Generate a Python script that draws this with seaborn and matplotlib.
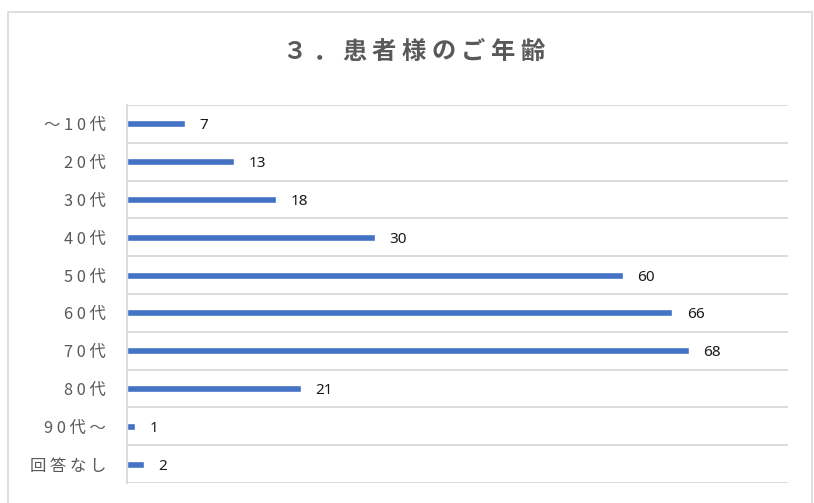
import numpy as np
import pandas as pd
import matplotlib
matplotlib.use("Agg")
import matplotlib.pyplot as plt
from matplotlib.patches import Rectangle
import seaborn as sns

# Age groups of patients and respondent counts
age_groups = ["～10代", "20代", "30代", "40代", "50代",
              "60代", "70代", "80代", "90代～", "回答なし"]
counts = [7, 13, 18, 30, 60, 66, 68, 21, 1, 2]
title_text = "３．患者様のご年齢"

BAR_COLOR = "#4472C4"
GRID_COLOR = "#D9D9D9"
TEXT_GRAY = "#595959"

sns.set_style("white")
plt.rcParams["font.family"] = ["Noto Sans CJK JP", "DejaVu Sans"]

df = pd.DataFrame({"age": age_groups, "count": counts})

W, H = 814, 503
fig = plt.figure(figsize=(W / 100, H / 100), dpi=100)
ax = fig.add_axes([127 / W, 1 - 483 / H, (788 - 127) / W, (483 - 105) / H])

sns.barplot(data=df, x="count", y="age", orient="h", color=BAR_COLOR,
            saturation=1, width=0.18, ax=ax)

ax.set_xlim(0, 80)
ax.set_ylim(len(age_groups) - 0.5, -0.5)
ax.set_xticks([])
ax.set_xlabel("")
ax.set_ylabel("")

# Category labels with loose letter spacing
ax.set_yticks(range(len(age_groups)))
ax.set_yticklabels([" ".join(lbl) for lbl in age_groups])

# Category separators as horizontal grid lines
ax.set_yticks(np.arange(-0.5, len(age_groups), 1), minor=True)
ax.grid(which="minor", axis="y", color=GRID_COLOR, linewidth=1.3)
ax.grid(which="major", visible=False)
ax.tick_params(axis="y", which="both", length=0, pad=15)
ax.tick_params(axis="y", which="major", labelsize=11.8, labelcolor=TEXT_GRAY)

for side in ["top", "right", "bottom"]:
    ax.spines[side].set_visible(False)
ax.spines["left"].set_color(GRID_COLOR)
ax.spines["left"].set_linewidth(1.3)

# Value labels at the end of each bar
for i, v in enumerate(counts):
    ax.annotate(str(v), xy=(v, i), xytext=(10.5, -1.5), textcoords="offset points",
                ha="left", va="center", fontsize=11, color="#1a1a1a",
                family=["Noto Sans", "DejaVu Sans"])

# Title with widened character spacing
advance = 29.7
cx, cy = 413.5, 52
n = len(title_text)
for i, ch in enumerate(title_text):
    x = cx + (i - (n - 1) / 2) * advance
    fig.text(x / W, 1 - cy / H, ch, ha="center", va="center",
             fontsize=17.5, color=TEXT_GRAY, fontweight="bold")

# Chart frame
fig.patches.append(Rectangle((8 / W, -0.05), (812 - 8) / W, 1 - 12 / H + 0.05,
                             transform=fig.transFigure, fill=False,
                             edgecolor=GRID_COLOR, linewidth=1.2, zorder=0))

fig.savefig("out.png", dpi=100)
